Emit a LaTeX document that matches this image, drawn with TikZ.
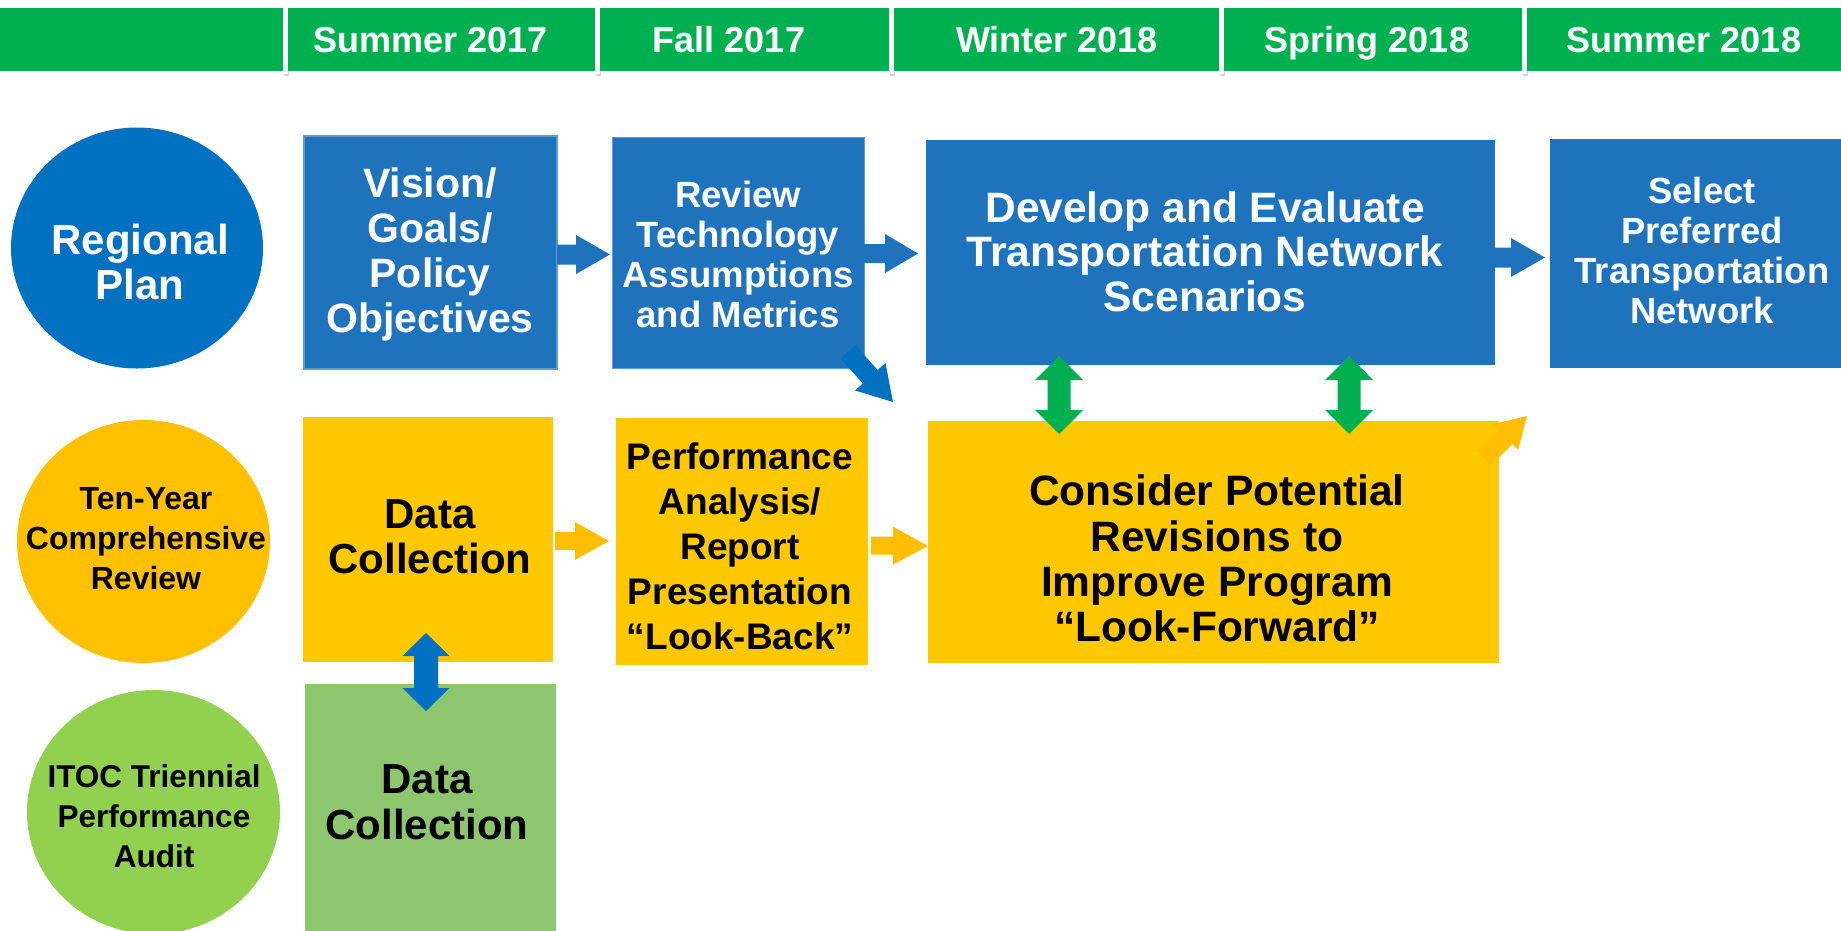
\documentclass[tikz,border=0pt]{standalone}
\usepackage{fontspec}
\setmainfont{Liberation Sans}
\usetikzlibrary{calc,shapes.geometric}
\definecolor{hdrgreen}{RGB}{0,176,80}
\definecolor{boxblue}{RGB}{31,115,189}
\definecolor{boxedge}{RGB}{95,155,212}
\definecolor{circblue}{RGB}{0,112,192}
\definecolor{boxyellow}{RGB}{255,200,0}
\definecolor{circyellow}{RGB}{255,192,0}
\definecolor{arryellow}{RGB}{255,190,0}
\definecolor{circgreen}{RGB}{146,208,80}
\definecolor{boxgreen}{RGB}{141,198,110}
\newcommand{\fs}[2]{\fontsize{#1}{#2}\selectfont\bfseries}
% single block arrow: #1 colour, #2 tail, #3 tip, #4 shaft half width, #5 head half width, #6 head length
\newcommand{\blockarrow}[6]{%
  \path #2 coordinate (bxs) #3 coordinate (bxt);
  \path ($(bxt)!#6!(bxs)$) coordinate (bxh);
  \fill[#1] ($(bxs)!#4!90:(bxt)$) -- ($(bxh)!#4!90:(bxt)$) -- ($(bxh)!#5!90:(bxt)$) -- (bxt)
    -- ($(bxh)!#5!-90:(bxt)$) -- ($(bxh)!#4!-90:(bxt)$) -- ($(bxs)!#4!-90:(bxt)$) -- cycle;}
% double block arrow
\newcommand{\dblarrow}[6]{%
  \path #2 coordinate (dxa) #3 coordinate (dxb);
  \path ($(dxa)!#6!(dxb)$) coordinate (dha) ($(dxb)!#6!(dxa)$) coordinate (dhb);
  \fill[#1] (dxa) -- ($(dha)!#5!90:(dxb)$) -- ($(dha)!#4!90:(dxb)$) -- ($(dhb)!#4!-90:(dxa)$)
    -- ($(dhb)!#5!-90:(dxa)$) -- (dxb) -- ($(dhb)!#5!90:(dxa)$) -- ($(dhb)!#4!90:(dxa)$)
    -- ($(dha)!#4!-90:(dxb)$) -- ($(dha)!#5!-90:(dxb)$) -- cycle;}
\tikzset{
  box/.style={rectangle, inner sep=0pt, outer sep=0pt, anchor=north west},
  circ/.style={ellipse, inner sep=0pt, outer sep=0pt},
  lbl/.style={align=center, inner sep=0pt},
  wlbl/.style={lbl, text=white},
  hdr/.style={inner sep=0pt, anchor=base, text=white, font=\fs{36}{40}},
}
\begin{document}
\begin{tikzpicture}[x=1pt,y=-1pt]
\useasboundingbox (0,0) rectangle (1841,930);
% header bar
\fill[hdrgreen] (0,8) rectangle (1841,71);
\foreach \sx in {285,597,891,1221,1524}{
  \fill[black!18] (\sx-1.5,71) rectangle (\sx+3.5,76);
  \fill[white] (\sx-2.5,6) rectangle (\sx+2.5,74);
}
\node[hdr] (h1) at (431,52) {Summer 2017};
\node[hdr] (h2) at (729,52) {Fall 2017};
\node[hdr] (h3) at (1057,52) {Winter 2018};
\node[hdr] (h4) at (1367,52) {Spring 2018};
\node[hdr] (h5) at (1684,52) {Summer 2018};
% row labels
\node[circ, fill=circblue, minimum width=252pt, minimum height=241pt] (rp) at (137,248) {};
\node[circ, fill=circyellow, minimum width=253pt, minimum height=243pt] (ty) at (143.5,541.5) {};
\node[circ, fill=circgreen, minimum width=253pt, minimum height=244pt] (it) at (153.5,812) {};
% boxes
\node[box, fill=boxblue, draw=boxedge, line width=1.5pt, minimum width=253pt, minimum height=233pt] (vision) at (304,136) {};
\node[box, fill=boxblue, draw=boxedge, line width=0.8pt, minimum width=252pt, minimum height=231pt] (review) at (612,137) {};
\node[box, fill=boxblue, minimum width=569pt, minimum height=225pt] (develop) at (926,140) {};
\node[box, fill=boxblue, minimum width=295pt, minimum height=229pt] (select) at (1550,139) {};
\node[box, fill=boxyellow, minimum width=250pt, minimum height=245pt] (dc1) at (303,417) {};
\node[box, fill=boxyellow, minimum width=252pt, minimum height=247pt] (perf) at (616,418) {};
\node[box, fill=boxyellow, minimum width=571pt, minimum height=242pt] (consider) at (928,421) {};
\node[box, fill=boxgreen, minimum width=251pt, minimum height=250pt] (dc2) at (305,684) {};
% arrows
\blockarrow{boxblue}{($(vision.east)+(0,2)$)}{($(review.west)+(-2,2)$)}{10pt}{19.5pt}{34pt}
\blockarrow{boxblue}{($(review.east)+(0,1)$)}{($(develop.west)+(-8,1)$)}{9.5pt}{19.5pt}{33pt}
\blockarrow{boxblue}{($(develop.east)+(0,5)$)}{($(select.west)+(-5,4)$)}{10pt}{19.5pt}{34pt}
\blockarrow{circblue}{($(review.south east)+(-16,-16)$)}{($(consider.north west)+(-35,-19)$)}{10pt}{20.5pt}{34pt}
\blockarrow{arryellow}{($(dc1.east)+(2,1.5)$)}{($(perf.west)+(-7,-0.5)$)}{9pt}{19pt}{34pt}
\blockarrow{arryellow}{($(perf.east)+(3,4)$)}{($(consider.west)+(0,4)$)}{9pt}{19pt}{35pt}
\blockarrow{arryellow}{($(consider.north east)+(-15,37)$)}{($(consider.north east)+(28,-5)$)}{10pt}{18pt}{30pt}
\dblarrow{hdrgreen}{($(develop.south west)+(133,-9)$)}{($(consider.north west)+(131,13)$)}{11.5pt}{24pt}{24pt}
\dblarrow{hdrgreen}{($(develop.south west)+(423,-9)$)}{($(consider.north west)+(421,13)$)}{11.5pt}{24pt}{24pt}
\dblarrow{circblue}{($(dc1.south)+(-2,-29)$)}{($(dc2.north)+(-4.5,27)$)}{12pt}{23.5pt}{23pt}
% texts
\node[wlbl, font=\fs{42}{44.6}] (rpt) at ($(rp.center)+(3,14)$) {Regional\\Plan};
\node[lbl, font=\fs{32}{40}] (tyt) at ($(ty.center)+(2.5,-2.5)$) {Ten-Year\\Comprehensive\\Review};
\node[lbl, font=\fs{31.5}{40}] (itt) at ($(it.center)+(0.5,4)$) {ITOC Triennial\\Performance\\Audit};
\node[wlbl, font=\fs{41}{45}] (vt) at ($(vision.center)+(-0.5,1.5)$) {Vision/\\Goals/\\Policy\\Objectives};
\node[wlbl, font=\fs{36.5}{40}] (rt) at ($(review.center)+(0,1.5)$) {Review\\Technology\\Assumptions\\and Metrics};
\node[wlbl, font=\fs{42.5}{44.6}] (dt) at ($(develop.center)+(-5.5,-1)$) {Develop and Evaluate\\Transportation Network\\Scenarios};
\node[wlbl, font=\fs{36.4}{40}] (st) at ($(select.center)+(4.5,-3)$) {Select\\Preferred\\Transportation\\Network};
\node[lbl, font=\fs{42}{44.6}] (d1t) at ($(dc1.center)+(2,-3)$) {Data\\Collection};
\node[lbl, font=\fs{37}{45}] (pt) at ($(perf.center)+(-2,4.5)$) {Performance\\Analysis/\\Report\\Presentation\\“Look-Back”};
\node[lbl, font=\fs{42.5}{45.3}] (ct) at ($(consider.center)+(3.5,16.5)$) {Consider Potential\\Revisions to\\Improve Program\\“Look-Forward”};
\node[lbl, font=\fs{42}{46}] (d2t) at ($(dc2.center)+(-3.5,-7)$) {Data\\Collection};
\end{tikzpicture}
\end{document}
